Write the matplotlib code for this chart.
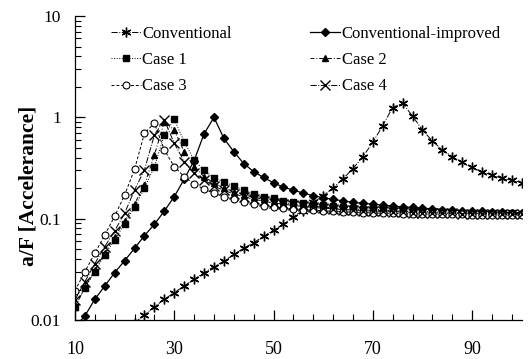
import numpy as np
import matplotlib
matplotlib.use("Agg")
import matplotlib.pyplot as plt
from matplotlib.ticker import FixedLocator, LogLocator, NullFormatter, FixedFormatter

freq = list(range(10, 101, 2))

conv_freq = list(range(22, 101, 2))
conventional = [0.0094, 0.0112, 0.0135, 0.016, 0.0186, 0.0217, 0.0252, 0.0293, 0.0336, 0.038,
                0.0445, 0.051, 0.058, 0.067, 0.077, 0.089, 0.105, 0.12, 0.145, 0.168,
                0.202, 0.248, 0.312, 0.41, 0.565, 0.83, 1.25, 1.38, 1.03, 0.75,
                0.585, 0.477, 0.41, 0.36, 0.32, 0.29, 0.27, 0.25, 0.24, 0.227]

conv_improved = [0.0085, 0.011, 0.016, 0.0217, 0.0293, 0.0385, 0.051, 0.068, 0.088, 0.119,
                 0.165, 0.245, 0.374, 0.686, 1.0, 0.62, 0.458, 0.35, 0.291, 0.255,
                 0.226, 0.204, 0.192, 0.178, 0.169, 0.161, 0.155, 0.15, 0.145, 0.142,
                 0.139, 0.136, 0.133, 0.131, 0.129, 0.127, 0.125, 0.123, 0.122, 0.12,
                 0.119, 0.118, 0.117, 0.116, 0.115, 0.114]

case1 = [0.0135, 0.0206, 0.030, 0.044, 0.062, 0.089, 0.131, 0.2, 0.326, 0.67,
         0.957, 0.575, 0.38, 0.30, 0.254, 0.232, 0.21, 0.192, 0.175, 0.165,
         0.159, 0.151, 0.146, 0.142, 0.138, 0.135, 0.132, 0.13, 0.128, 0.126,
         0.124, 0.122, 0.121, 0.12, 0.119, 0.118, 0.117, 0.116, 0.116, 0.115,
         0.115, 0.114, 0.114, 0.113, 0.113, 0.112]

case2 = [0.0135, 0.021, 0.031, 0.046, 0.066, 0.095, 0.14, 0.215, 0.425, 0.907,
         0.75, 0.458, 0.326, 0.26, 0.225, 0.2, 0.185, 0.172, 0.163, 0.155,
         0.149, 0.144, 0.14, 0.136, 0.133, 0.13, 0.128, 0.126, 0.124, 0.123,
         0.121, 0.12, 0.119, 0.118, 0.117, 0.116, 0.115, 0.115, 0.114, 0.114,
         0.113, 0.113, 0.112, 0.112, 0.112, 0.111]

case3 = [0.0195, 0.030, 0.0455, 0.069, 0.106, 0.171, 0.307, 0.697, 0.875, 0.477,
         0.326, 0.26, 0.22, 0.196, 0.178, 0.165, 0.156, 0.147, 0.14, 0.134,
         0.131, 0.128, 0.125, 0.123, 0.121, 0.12, 0.118, 0.117, 0.116, 0.115,
         0.114, 0.113, 0.113, 0.112, 0.112, 0.111, 0.111, 0.11, 0.11, 0.11,
         0.109, 0.109, 0.109, 0.108, 0.108, 0.108]

case4 = [0.0158, 0.0239, 0.036, 0.053, 0.076, 0.113, 0.192, 0.303, 0.67, 0.942,
         0.555, 0.366, 0.28, 0.241, 0.21, 0.19, 0.176, 0.165, 0.156, 0.149,
         0.143, 0.139, 0.135, 0.132, 0.129, 0.127, 0.125, 0.123, 0.122, 0.12,
         0.119, 0.118, 0.117, 0.116, 0.115, 0.115, 0.114, 0.113, 0.113, 0.112,
         0.112, 0.111, 0.111, 0.111, 0.11, 0.11]

x_major = [10, 30, 50, 70, 90]
x_minor = list(range(10, 101, 4))
y_major = [0.01, 0.1, 1, 10]
y_labels = ["0.01", "0.1", "1", "10"]
ylabel = "a/F [Accelerance]"

plt.rcParams['font.family'] = ['Liberation Serif', 'DejaVu Serif']

fig = plt.figure(figsize=(5.31, 3.59), dpi=100)
ax = fig.add_axes([0.1412, 0.1086, 0.9825 - 0.1412, 0.9554 - 0.1086])

lw = 0.7
h_conv, = ax.plot(conv_freq, conventional, color='black', lw=lw, ls='-.', marker=(6, 2, 0), ms=7,
                  mew=1.0, label='Conventional')
h_ci, = ax.plot(freq, conv_improved, color='black', lw=0.9, ls='-', marker='D', ms=3.6,
                label='Conventional-improved')
h_c1, = ax.plot(freq, case1, color='black', lw=lw, ls=':', marker='s', ms=5, label='Case 1')
h_c2, = ax.plot(freq, case2, color='black', lw=lw, ls=(0, (4, 2, 1, 2)), marker='^', ms=5,
                label='Case 2')
h_c3, = ax.plot(freq, case3, color='black', lw=lw, ls=(0, (3, 2)), marker='o', ms=5, mfc='white',
                mew=0.8, label='Case 3')
h_c4, = ax.plot(freq, case4, color='black', lw=lw, ls='-.', marker='x', ms=6.5, mew=1.0,
                label='Case 4')

ax.set_yscale('log')
ax.set_xlim(10, 100)
ax.set_ylim(0.01, 10)

ax.spines['top'].set_visible(False)
ax.spines['right'].set_visible(False)
for s in ('left', 'bottom'):
    ax.spines[s].set_linewidth(0.9)

ax.xaxis.set_major_locator(FixedLocator(x_major))
ax.xaxis.set_minor_locator(FixedLocator(x_minor))
ax.xaxis.set_minor_formatter(NullFormatter())
ax.yaxis.set_major_locator(FixedLocator(y_major))
ax.yaxis.set_major_formatter(FixedFormatter(y_labels))
ax.yaxis.set_minor_locator(LogLocator(base=10, subs=np.arange(2, 10)))
ax.yaxis.set_minor_formatter(NullFormatter())

ax.tick_params(axis='x', which='major', direction='in', length=7, width=0.9, pad=15, labelsize=13)
ax.tick_params(axis='x', which='minor', direction='in', length=4.5, width=0.8)
ax.tick_params(axis='y', which='major', direction='in', length=7, width=0.9, pad=10, labelsize=12.5)
ax.tick_params(axis='y', which='minor', direction='in', length=4, width=0.8)

ax.set_ylabel(ylabel, fontsize=15.5, fontweight='bold')
ax.yaxis.set_label_coords(-0.082, 0.44)

handles = [h_conv, h_c1, h_c3, h_ci, h_c2, h_c4]
leg = ax.legend(handles=handles, labels=[h.get_label() for h in handles], ncol=2,
                loc='upper left', bbox_to_anchor=(0.065, 0.99), frameon=False,
                fontsize=12, handlelength=1.8, handletextpad=0.1, columnspacing=4.7,
                labelspacing=0.62, borderaxespad=0)

fig.savefig('out.png', dpi=100)
